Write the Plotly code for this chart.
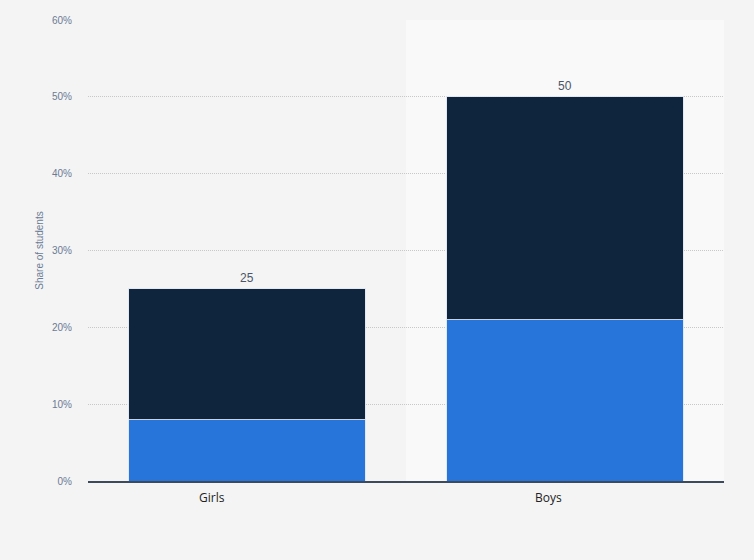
import plotly.graph_objects as go

categories = ["Girls", "Boys"]
lower_values = [8, 21]
upper_values = [17, 29]
totals = [25, 50]
y_ticks = [0, 10, 20, 30, 40, 50, 60]
y_tick_labels = ["0%", "10%", "20%", "30%", "40%", "50%", "60%"]

fig = go.Figure()
fig.add_trace(go.Bar(x=categories, y=lower_values, marker=dict(color="#2775da",
                     line=dict(color="rgba(225,230,238,0.9)", width=1)),
                     width=0.745, hoverinfo="skip", showlegend=False))
fig.add_trace(go.Bar(x=categories, y=upper_values, marker=dict(color="#0f253d",
                     line=dict(color="rgba(225,230,238,0.9)", width=1)),
                     width=0.745, hoverinfo="skip", showlegend=False))

# highlighted category background
fig.add_shape(type="rect", xref="x", yref="paper", x0=0.5, x1=1.5, y0=0, y1=1,
              fillcolor="#f9f9f9", line=dict(width=0), layer="below")

for c, t in zip(categories, totals):
    fig.add_annotation(x=c, y=t, text=str(t), showarrow=False, yanchor="bottom",
                       yshift=2, font=dict(size=12, color="#4a5568",
                                           family="Liberation Sans, Arial"))

label_shift = [-35, -17]
for c, s in zip(categories, label_shift):
    fig.add_annotation(x=c, y=0, yref="y", text=c, showarrow=False, yanchor="top",
                       yshift=-6, xshift=s,
                       font=dict(size=12, color="#222222", family="Open Sans, DejaVu Sans"))

fig.update_layout(
    barmode="stack",
    width=754, height=560,
    margin=dict(l=88, r=30, t=20, b=79),
    paper_bgcolor="#f4f4f4", plot_bgcolor="#f4f4f4",
    xaxis=dict(showticklabels=False, showgrid=False, showline=True,
               linecolor="#3c4a5c", linewidth=1.5, ticks="", range=[-0.5, 1.5],
               zeroline=False),
    yaxis=dict(range=[0, 60], tickvals=y_ticks, ticktext=y_tick_labels,
               showgrid=True, gridcolor="#c8c8c8", griddash="1px,1px", gridwidth=1,
               zeroline=False, showline=False,
               tickfont=dict(size=10, color="#6b7b95", family="Liberation Sans, Arial"),
               ticklabelstandoff=15,
               title=dict(text="Share of students", standoff=6,
                          font=dict(size=10, color="#6b7b95", family="Liberation Sans, Arial"))),
)

fig.write_html("out.html", config={"displayModeBar": False},
               post_script="document.body.style.margin='0';document.body.style.background='#f4f4f4';")
